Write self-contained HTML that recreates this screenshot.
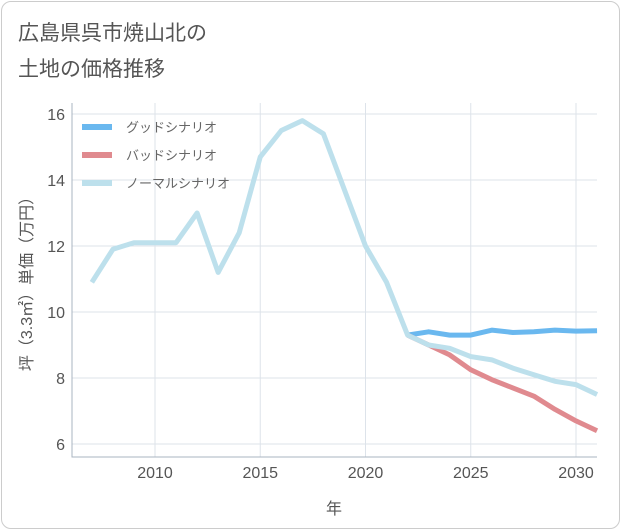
<!DOCTYPE html>
<html><head><meta charset="utf-8"><style>
body{margin:0;background:#fff;font-family:"Liberation Sans","Noto Sans CJK JP",sans-serif;}
#card{position:absolute;left:1px;top:1px;width:617px;height:526px;border:1px solid #ccc;border-radius:10px;background:#fff;}
</style></head><body>
<div id="card"></div>
<svg width="621" height="530" style="position:absolute;left:0;top:0">
<text x="18" y="40" font-size="21" fill="#555">広島県呉市焼山北の</text>
<text x="18" y="76" font-size="21" fill="#555">土地の価格推移</text>
<g id="grid"></g><g id="series"></g><g id="axes"></g>
<g id="legend"></g>
<text x="334" y="514" font-size="16" fill="#555" text-anchor="middle">年</text>
<text transform="translate(32,280) rotate(-90)" font-size="16" fill="#555" text-anchor="middle">坪（3.3㎡）単価（万円）</text>
</svg>
<script>
const years=[2007,2008,2009,2010,2011,2012,2013,2014,2015,2016,2017,2018,2019,2020,2021,2022,2023,2024,2025,2026,2027,2028,2029,2030,2031];
const normal=[10.9,11.9,12.1,12.1,12.1,13.0,11.2,12.4,14.7,15.5,15.8,15.4,13.7,12.0,10.9,9.3,9.0,8.9,8.65,8.55,8.3,8.1,7.9,7.8,7.5];
const futureYears=[2022,2023,2024,2025,2026,2027,2028,2029,2030,2031];
const good=[9.3,9.4,9.3,9.3,9.45,9.38,9.4,9.45,9.42,9.43];
const bad=[9.3,9.0,8.7,8.25,7.95,7.7,7.45,7.05,6.7,6.4];
const xTicks=[2010,2015,2020,2025,2030];
const yTicks=[6,8,10,12,14,16];
const L=72,R=597,T=103,B=457;
const x=v=>155+(v-2010)*21.05;
const y=v=>444-(v-6)*33;
const ns="http://www.w3.org/2000/svg";
function mk(tag,attrs,parent){const e=document.createElementNS(ns,tag);for(const k in attrs)e.setAttribute(k,attrs[k]);document.getElementById(parent).appendChild(e);return e;}
xTicks.forEach(t=>{
 const l=mk('line',{x1:x(t),x2:x(t),y1:T,y2:B,stroke:'#dde3ea'},'grid');
 
 
 const tx=mk('text',{x:x(t),y:478,'font-size':16,fill:'#555','text-anchor':'middle'},'axes');tx.textContent=t;
 
 
});
yTicks.forEach(t=>{
 const l=mk('line',{x1:L,x2:R,y1:y(t),y2:y(t),stroke:'#dde3ea'},'grid');
 
 
 const tx=mk('text',{x:65,y:y(t)+6,'font-size':16,fill:'#555','text-anchor':'end'},'axes');tx.textContent=t;
 
 
});
const ax=mk('polyline',{points:`${L},${T} ${L},${B} ${R},${B}`,fill:'none',stroke:'#aab4c0'},'axes');


function line(xs,vs,color,name){
 const p=mk('polyline',{points:xs.map((v,i)=>x(v)+','+y(vs[i])).join(' '),fill:'none',stroke:color,'stroke-width':5,'stroke-linejoin':'round'},'series');
 
 
}
line(futureYears,good,'#6ab8ef','good-scenario-line');
line(futureYears,bad,'#e08a8f','bad-scenario-line');
line(years,normal,'#bde0ec','normal-scenario-line');
[['グッドシナリオ','#6ab8ef'],['バッドシナリオ','#e08a8f'],['ノーマルシナリオ','#bde0ec']].forEach((d,i)=>{
 const yy=127+i*28;
 const r=mk('rect',{x:82,y:yy-3,width:30,height:6,fill:d[1]},'legend');
 
 
 const t=mk('text',{x:126,y:yy+5,'font-size':13,fill:'#666'},'legend');t.textContent=d[0];
 
 
});
</script>
</body></html>
